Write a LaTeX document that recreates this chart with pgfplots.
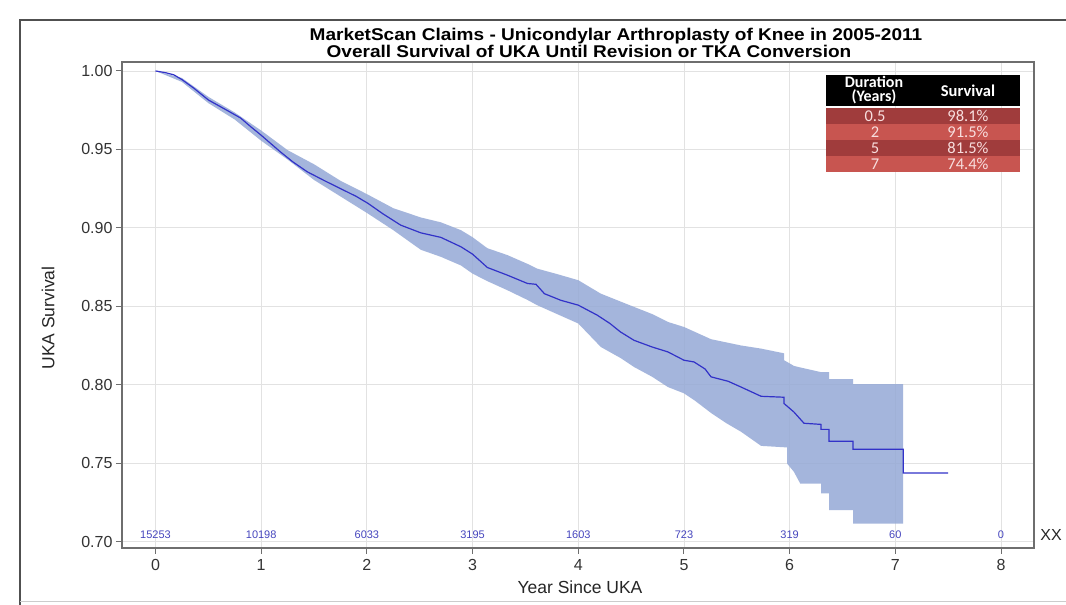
\documentclass[border=0pt]{standalone}
\usepackage{pgfplots}
\pgfplotsset{compat=1.18}
\usepackage{fontspec}
\setmainfont{Liberation Sans}
\newfontfamily\calibri{Carlito}
\definecolor{curve}{RGB}{50,50,200}
\definecolor{band}{RGB}{149,169,214}
\definecolor{risk}{RGB}{70,70,190}
\definecolor{axgray}{RGB}{110,110,110}
\definecolor{gridc}{RGB}{226,226,226}
\definecolor{framec}{RGB}{80,80,80}
\definecolor{rowA}{RGB}{160,60,60}
\definecolor{rowB}{RGB}{200,85,80}
\definecolor{celltext}{RGB}{248,222,222}
\begin{document}
\begin{tikzpicture}[x=1pt,y=1pt]
\useasboundingbox (0,0) rectangle (1066,605);
\fill[white] (0,0) rectangle (1066,605);
% frame
\draw[framec, line width=1.5pt] (20,-5) -- (20,585) -- (1075,585);
\draw[gray!40, line width=1pt] (20,3) -- (1075,3);
\begin{axis}[
  at={(122pt,57pt)}, anchor=south west,
  width=912pt, height=486pt, scale only axis,
  xmin=-0.317, xmax=8.312, ymin=0.6959, ymax=1.0057,
  xtick={0,1,2,3,4,5,6,7,8},
  ytick={0.70,0.75,0.80,0.85,0.90,0.95,1.00},
  yticklabel style={/pgf/number format/.cd, fixed, fixed zerofill, precision=2},
  /pgf/number format/assume math mode=true,
  ticklabel style={font=\fontsize{16}{16}\selectfont, text=black!80},
  tick align=outside, xtick pos=bottom, ytick pos=left,
  major tick length=6pt,
  tick style={axgray, line width=1pt},
  axis line style={axgray, line width=1.3pt},
  grid=major, grid style={gridc, line width=0.8pt},
  xticklabel style={yshift=-2pt},
  clip=false,
]
% confidence band (upper forward, lower backward)
\addplot[fill=band, fill opacity=0.85, draw=none] coordinates {
(0,1.0) (0.25,0.9955) (0.5,0.9835) (0.75,0.9735) (1.0,0.962) (1.25,0.9495) (1.5,0.9405)
(1.75,0.930) (2.0,0.9215) (2.25,0.9125) (2.51,0.9066) (2.70,0.9035) (2.89,0.8985)
(3.0,0.894) (3.14,0.887) (3.33,0.8826) (3.52,0.877) (3.61,0.874) (3.8,0.8705) (4.0,0.8666)
(4.214,0.858) (4.40,0.853) (4.527,0.8496) (4.70,0.845) (4.848,0.840) (5.0,0.8368)
(5.256,0.829) (5.54,0.825) (5.73,0.823) (5.947,0.820) (5.947,0.8156) (6.04,0.812)
(6.10,0.811) (6.297,0.808) (6.373,0.808) (6.373,0.8035) (6.60,0.8035) (6.60,0.8003)
(7.074,0.8003)
(7.074,0.7115) (6.60,0.7115) (6.60,0.720) (6.373,0.720) (6.373,0.7307) (6.297,0.7307)
(6.297,0.737) (6.10,0.737) (6.04,0.7445) (5.975,0.7498) (5.975,0.760) (5.73,0.761)
(5.54,0.770) (5.40,0.7755) (5.256,0.782) (5.10,0.790) (5.0,0.7945) (4.848,0.7985)
(4.70,0.805) (4.527,0.8113) (4.40,0.817) (4.214,0.824) (4.0,0.839) (3.8,0.845)
(3.61,0.8507) (3.52,0.854) (3.33,0.8602) (3.14,0.866) (3.0,0.8708) (2.89,0.876)
(2.70,0.8815) (2.51,0.886) (2.25,0.8985) (2.0,0.9095) (1.75,0.920) (1.5,0.9305)
(1.25,0.9435) (1.0,0.9555) (0.75,0.969) (0.5,0.9795) (0.25,0.993) (0,1.0)
};
% survival curve
\addplot[curve, line width=1.2pt] coordinates {
(0,1.0) (0.10,0.9988) (0.174,0.9975) (0.25,0.9945) (0.363,0.989) (0.5,0.9815)
(0.647,0.976) (0.805,0.970) (0.90,0.9645) (1.0,0.959) (1.18,0.9485) (1.30,0.942)
(1.436,0.9357) (1.60,0.930) (1.75,0.925) (1.90,0.920) (2.01,0.9156) (2.15,0.909)
(2.32,0.9017) (2.51,0.8968) (2.70,0.8939) (2.89,0.8879) (3.0,0.8832) (3.14,0.8747)
(3.33,0.8698) (3.52,0.8645) (3.60,0.864) (3.68,0.858) (3.835,0.8538) (4.0,0.8507)
(4.18,0.8443) (4.30,0.839) (4.40,0.8336) (4.527,0.8283) (4.70,0.824) (4.848,0.8209)
(5.0,0.8156) (5.095,0.8145) (5.20,0.810) (5.256,0.805) (5.417,0.8022) (5.54,0.7985)
(5.73,0.7926) (5.947,0.792) (5.947,0.788) (6.04,0.7826) (6.136,0.7754) (6.297,0.7747)
(6.297,0.7715) (6.373,0.7715) (6.373,0.764) (6.60,0.764) (6.60,0.7588) (7.074,0.7588)
(7.074,0.7437) (7.50,0.7437)
};
% numbers at risk
\foreach \xx/\nn in {0/15253,1/10198,2/6033,3/3195,4/1603,5/723,6/319,7/60,8/0}{
  \edef\tmp{\noexpand\node[text=risk, font=\noexpand\fontsize{11}{11}\noexpand\selectfont] at (axis cs:\xx,0.7041) {\nn};}
  \tmp
}
\end{axis}
% titles and labels
\node[anchor=base, inner sep=0pt, font=\fontsize{17}{17}\selectfont\bfseries] at (616,564.5) {\scalebox{1.12}[1]{MarketScan Claims - Unicondylar Arthroplasty of Knee in 2005-2011}};
\node[anchor=base, inner sep=0pt, font=\fontsize{17}{17}\selectfont\bfseries] at (589,547.5) {\scalebox{1.12}[1]{Overall Survival of UKA Until Revision or TKA Conversion}};
\node[font=\fontsize{17.5}{17.5}\selectfont, text=black!85] at (580,18) {Year Since UKA};
\node[font=\fontsize{17.5}{17.5}\selectfont, text=black!85, rotate=90] at (48,287) {UKA Survival};
\node[font=\fontsize{16}{16}\selectfont, text=black!85] at (1051,70) {XX};
% summary table
\fill[black] (826,530) rectangle (1020,499);
\fill[rowA] (826,497) rectangle (1020,481);
\fill[rowB] (826,481) rectangle (1020,465);
\fill[rowA] (826,465) rectangle (1020,449);
\fill[rowB] (826,449) rectangle (1020,433);
\node[anchor=base, inner sep=0pt, text=white, font=\calibri\bfseries\fontsize{16}{16}\selectfont] at (874,517) {Duration};
\node[anchor=base, inner sep=0pt, text=white, font=\calibri\bfseries\fontsize{16}{16}\selectfont] at (874,503) {(Years)};
\node[text=white, font=\calibri\bfseries\fontsize{16.5}{16.5}\selectfont] at (968,514) {Survival};
\foreach \yy/\dd/\ss in {489/0.5/98.1\%,473/2/91.5\%,457/5/81.5\%,441/7/74.4\%}{
  \node[text=celltext, font=\calibri\fontsize{16.5}{16.5}\selectfont] at (875,\yy) {\dd};
  \node[text=celltext, font=\calibri\fontsize{16.5}{16.5}\selectfont] at (968,\yy) {\ss};
}
\end{tikzpicture}
\end{document}
